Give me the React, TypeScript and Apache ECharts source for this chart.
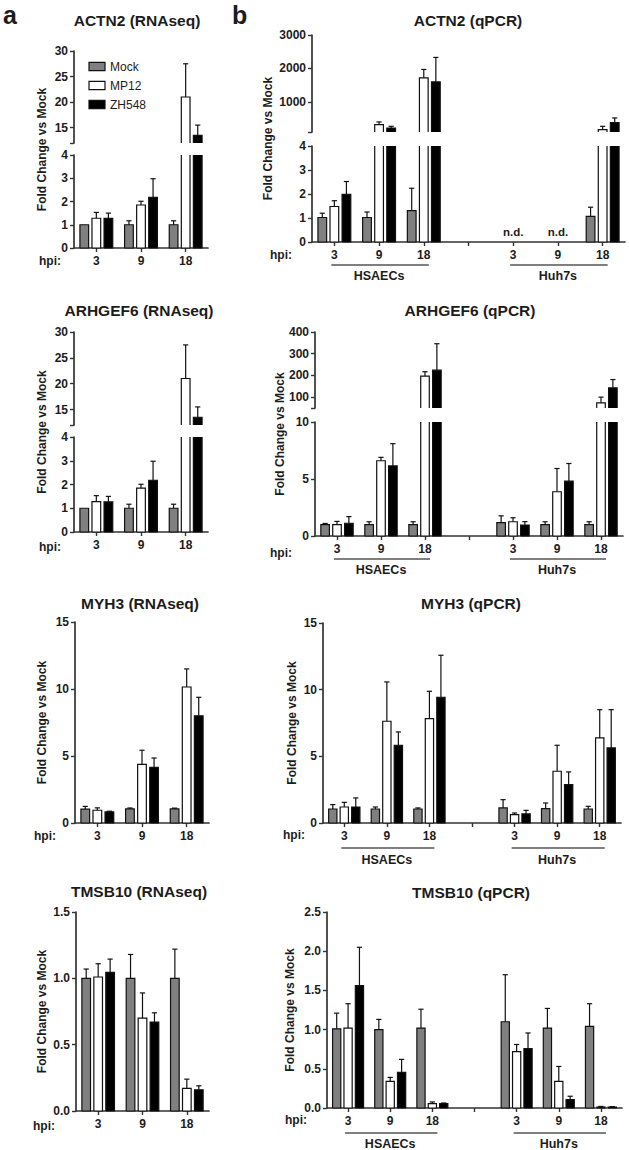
import React, { useEffect, useRef } from "react";
import * as echarts from "echarts";

const FONT = "'Liberation Sans', Arial, Helvetica, sans-serif";
const TXT = "#1c1c1c";
const AX = "#333333";

// ---------- categories / labels ----------
const groupNames = ["Mock", "MP12", "ZH548"];
const groupFill = ["#808080", "#ffffff", "#000000"];
const hpiCats = ["3", "9", "18"];
const cellCats = ["3", "9", "18", "", "3", "9", "18"];
const cellLines = ["HSAECs", "Huh7s"];
const N = null;

// ---------- a: RNAseq (rows: Mock, MP12, ZH548; cols: 3, 9, 18 hpi) ----------
const actn2SeqMean = [
  [1.0, 1.0, 1.0],
  [1.28, 1.85, 21.0],
  [1.27, 2.18, 13.5],
];
const actn2SeqSd = [
  [0.0, 0.17, 0.17],
  [0.25, 0.16, 6.5],
  [0.23, 0.8, 2.0],
];
const arhgef6SeqMean = [
  [1.0, 1.0, 1.0],
  [1.28, 1.85, 21.0],
  [1.27, 2.18, 13.5],
];
const arhgef6SeqSd = [
  [0.0, 0.17, 0.17],
  [0.25, 0.16, 6.5],
  [0.23, 0.8, 2.0],
];
const myh3SeqMean = [
  [1.04, 1.05, 1.05],
  [0.95, 4.38, 10.15],
  [0.83, 4.15, 8.0],
];
const myh3SeqSd = [
  [0.2, 0.07, 0.06],
  [0.18, 1.05, 1.35],
  [0.05, 0.7, 1.38],
];
const tmsb10SeqMean = [
  [1.0, 1.0, 1.0],
  [1.01, 0.7, 0.17],
  [1.045, 0.67, 0.16],
];
const tmsb10SeqSd = [
  [0.07, 0.18, 0.22],
  [0.1, 0.19, 0.07],
  [0.1, 0.07, 0.03],
];

// ---------- b: qPCR (cols: HSAECs 3, 9, 18, gap, Huh7s 3, 9, 18) ----------
const actn2QpcrMean = [
  [1.02, 1.02, 1.31, N, N, N, 1.07],
  [1.48, 320, 1720, N, N, N, 170],
  [1.99, 220, 1600, N, N, N, 380],
];
const actn2QpcrSd = [
  [0.18, 0.23, 0.93, N, N, N, 0.38],
  [0.24, 80, 250, N, N, N, 100],
  [0.53, 50, 730, N, N, N, 140],
];
const arhgef6QpcrMean = [
  [1.0, 1.0, 1.0, N, 1.17, 1.0, 1.0],
  [1.0, 6.6, 197, N, 1.25, 3.88, 74],
  [1.12, 6.15, 224, N, 0.96, 4.81, 143],
];
const arhgef6QpcrSd = [
  [0.1, 0.25, 0.25, N, 0.6, 0.25, 0.25],
  [0.28, 0.3, 20, N, 0.35, 2.04, 26],
  [0.58, 1.95, 122, N, 0.3, 1.55, 38],
];
const myh3QpcrMean = [
  [1.05, 1.05, 1.05, N, 1.13, 1.08, 1.05],
  [1.2, 7.63, 7.83, N, 0.63, 3.88, 6.38],
  [1.2, 5.83, 9.43, N, 0.68, 2.88, 5.63],
];
const myh3QpcrSd = [
  [0.33, 0.15, 0.08, N, 0.62, 0.42, 0.2],
  [0.35, 2.95, 2.05, N, 0.12, 1.95, 2.12],
  [0.68, 1.0, 3.15, N, 0.27, 0.95, 2.87],
];
const tmsb10QpcrMean = [
  [1.01, 1.0, 1.02, N, 1.1, 1.02, 1.04],
  [1.02, 0.34, 0.055, N, 0.72, 0.34, 0.013],
  [1.56, 0.455, 0.055, N, 0.757, 0.106, 0.013],
];
const tmsb10QpcrSd = [
  [0.2, 0.13, 0.24, N, 0.6, 0.25, 0.29],
  [0.31, 0.05, 0.022, N, 0.09, 0.19, 0.007],
  [0.49, 0.165, 0.009, N, 0.2, 0.044, 0.005],
];

// ---------- axis ticks ----------
const seqUpperTicks = [12, 15, 20, 25, 30];
const seqUpperLabels = [15, 20, 25, 30];
const actn2QpcrUpperTicks = [100, 1000, 2000, 3000];
const actn2QpcrUpperLabels = [1000, 2000, 3000];
const arhgef6QpcrUpperTicks = [50, 100, 200, 300, 400];
const arhgef6QpcrUpperLabels = [100, 200, 300, 400];

type Seg = {
  top: number;
  bottom: number;
  min: number;
  max: number;
  interval?: number;
  ticks?: number[];
  labels?: number[];
  dec?: number;
};
type Panel = {
  title: string;
  cats: string[];
  mean: (number | null)[][];
  sd: (number | null)[][];
  left: number;
  width: number;
  tx: number;
  ty: number;
  nameX: number;
  hpiX: number;
  hpiY: number;
  lines?: { lineY: number; labelY: number };
  segs: Seg[];
};

const panels: Panel[] = [
  {
    title: "ACTN2 (RNAseq)", cats: hpiCats, mean: actn2SeqMean, sd: actn2SeqSd,
    left: 74, width: 134, tx: 137, ty: 20, nameX: 42, hpiX: 50, hpiY: 261,
    segs: [
      { top: 51, bottom: 143, min: 12, max: 30, ticks: seqUpperTicks, labels: seqUpperLabels },
      { top: 155, bottom: 248, min: 0, max: 4, interval: 1 },
    ],
  },
  {
    title: "ARHGEF6 (RNAseq)", cats: hpiCats, mean: arhgef6SeqMean, sd: arhgef6SeqSd,
    left: 74, width: 134, tx: 139, ty: 310, nameX: 42, hpiX: 50, hpiY: 547,
    segs: [
      { top: 332, bottom: 425, min: 12, max: 30, ticks: seqUpperTicks, labels: seqUpperLabels },
      { top: 437, bottom: 532, min: 0, max: 4, interval: 1 },
    ],
  },
  {
    title: "MYH3 (RNAseq)", cats: hpiCats, mean: myh3SeqMean, sd: myh3SeqSd,
    left: 75, width: 134, tx: 140, ty: 603, nameX: 42, hpiX: 45, hpiY: 836,
    segs: [{ top: 622, bottom: 823, min: 0, max: 15, interval: 5 }],
  },
  {
    title: "TMSB10 (RNAseq)", cats: hpiCats, mean: tmsb10SeqMean, sd: tmsb10SeqSd,
    left: 76, width: 133, tx: 139, ty: 891, nameX: 42, hpiX: 44, hpiY: 1126,
    segs: [{ top: 912, bottom: 1111, min: 0, max: 1.5, interval: 0.5, dec: 1 }],
  },
  {
    title: "ACTN2 (qPCR)", cats: cellCats, mean: actn2QpcrMean, sd: actn2QpcrSd,
    left: 312, width: 313, tx: 468, ty: 20, nameX: 268, hpiX: 281, hpiY: 255,
    lines: { lineY: 265, labelY: 276 },
    segs: [
      { top: 35, bottom: 132, min: 100, max: 3000, ticks: actn2QpcrUpperTicks, labels: actn2QpcrUpperLabels },
      { top: 146, bottom: 242, min: 0, max: 4, interval: 1 },
    ],
  },
  {
    title: "ARHGEF6 (qPCR)", cats: cellCats, mean: arhgef6QpcrMean, sd: arhgef6QpcrSd,
    left: 315, width: 308, tx: 470, ty: 310, nameX: 280, hpiX: 281, hpiY: 553,
    lines: { lineY: 559, labelY: 570 },
    segs: [
      { top: 332, bottom: 408, min: 50, max: 400, ticks: arhgef6QpcrUpperTicks, labels: arhgef6QpcrUpperLabels },
      { top: 422, bottom: 536, min: 0, max: 10, interval: 5 },
    ],
  },
  {
    title: "MYH3 (qPCR)", cats: cellCats, mean: myh3QpcrMean, sd: myh3QpcrSd,
    left: 323, width: 298, tx: 471, ty: 603, nameX: 292, hpiX: 294, hpiY: 835,
    lines: { lineY: 848, labelY: 860 },
    segs: [{ top: 623, bottom: 823, min: 0, max: 15, interval: 5 }],
  },
  {
    title: "TMSB10 (qPCR)", cats: cellCats, mean: tmsb10QpcrMean, sd: tmsb10QpcrSd,
    left: 327, width: 295, tx: 471, ty: 892, nameX: 290, hpiX: 296, hpiY: 1120,
    lines: { lineY: 1133, labelY: 1144 },
    segs: [{ top: 912, bottom: 1108, min: 0, max: 2.5, interval: 0.5, dec: 1 }],
  },
];

function makeRender(g: number, segMin: number, isLower: boolean) {
  return (params: any, api: any) => {
    const cat = api.value(0) as number;
    const mean = api.value(1) as number;
    const sd = api.value(2) as number;
    const cs = params.coordSys;
    const top = cs.y;
    const bottom = cs.y + cs.height;
    if (!isLower && mean <= segMin) return null;
    const band = api.size([1, 0])[0];
    const cx = api.coord([cat, segMin])[0] + (g - 1) * band * 0.27;
    const bw = band * 0.195;
    const x0 = cx - bw / 2;
    const x1 = cx + bw / 2;
    let yTop = api.coord([cat, mean])[1];
    const clipped = yTop < top;
    if (clipped) yTop = top;
    const children: any[] = [];
    children.push({
      type: "rect",
      shape: { x: x0, y: yTop, width: bw, height: bottom - yTop },
      style: { fill: groupFill[g], stroke: null },
    });
    let pts: number[][];
    if (clipped) pts = [[x0, top], [x0, bottom], [x1, bottom], [x1, top]];
    else if (isLower) pts = [[x0, bottom], [x0, yTop], [x1, yTop], [x1, bottom], [x0, bottom]];
    else pts = [[x0, bottom], [x0, yTop], [x1, yTop], [x1, bottom]];
    children.push({
      type: "polyline",
      shape: { points: pts },
      style: { stroke: "#111", lineWidth: 1.2, fill: null },
    });
    if (sd > 0 && !clipped) {
      let yErr = api.coord([cat, mean + sd])[1];
      let capped = true;
      if (yErr < top) {
        yErr = top;
        capped = false;
      }
      const es = { stroke: "#111", lineWidth: 1.2 };
      if (yTop - yErr > 0.5) {
        children.push({ type: "line", shape: { x1: cx, y1: yTop, x2: cx, y2: yErr }, style: es });
      }
      if (capped) {
        children.push({ type: "line", shape: { x1: cx - 2.6, y1: yErr, x2: cx + 2.6, y2: yErr }, style: es });
      }
    }
    return { type: "group", children };
  };
}

function buildOption() {
  const grids: any[] = [];
  const xAxes: any[] = [];
  const yAxes: any[] = [];
  const series: any[] = [];
  const lowerIdx: number[] = [];
  panels.forEach((p) => {
    p.segs.forEach((s, si) => {
      const isLower = si === p.segs.length - 1;
      const gi = grids.length;
      if (isLower) lowerIdx.push(gi);
      grids.push({ left: p.left, width: p.width, top: s.top, height: s.bottom - s.top });
      xAxes.push({
        type: "category",
        gridIndex: gi,
        data: p.cats,
        show: isLower,
        boundaryGap: true,
        axisLine: { show: true, lineStyle: { color: AX, width: 1.7 } },
        axisTick: { show: true, alignWithLabel: true, interval: 0, length: 4, lineStyle: { color: AX, width: 1.4 } },
        axisLabel: { interval: 0, margin: 7, color: TXT, fontFamily: FONT, fontWeight: "bold", fontSize: 12 },
        splitLine: { show: false },
      });
      const fmt = (v: number) => (s.dec ? v.toFixed(s.dec) : String(v));
      const yAxis: any = {
        type: "value",
        gridIndex: gi,
        min: s.min,
        max: s.max,
        splitLine: { show: false },
        axisLine: { show: true, lineStyle: { color: AX, width: 1.7 } },
        axisTick: { show: true, length: 4, lineStyle: { color: AX, width: 1.4 } },
        axisLabel: { margin: 6, color: TXT, fontFamily: FONT, fontWeight: "bold", fontSize: 12, formatter: fmt },
      };
      if (s.interval) yAxis.interval = s.interval;
      if (s.ticks) yAxis.axisTick.customValues = s.ticks;
      if (s.labels) yAxis.axisLabel.customValues = s.labels;
      yAxes.push(yAxis);
      for (let g = 0; g < 3; g++) {
        const data: any[] = [];
        p.mean[g].forEach((m, i) => {
          if (m == null) return;
          if (!isLower && m <= s.min) return;
          data.push([i, m, p.sd[g][i] ?? 0]);
        });
        series.push({
          type: "custom",
          name: groupNames[g],
          xAxisIndex: gi,
          yAxisIndex: gi,
          silent: true,
          encode: { x: 0, y: 1 },
          renderItem: makeRender(g, s.min, isLower),
          data,
        });
      }
    });
  });
  return { grids, xAxes, yAxes, series, lowerIdx };
}

function txt(text: string, x: number, y: number, size: number, bold: boolean, align = "center", extra: any = {}) {
  return {
    type: "text",
    x,
    y,
    silent: true,
    ...extra,
    style: {
      text,
      fill: TXT,
      fontFamily: FONT,
      fontSize: size,
      fontWeight: bold ? "bold" : "normal",
      align,
      textAlign: align,
      verticalAlign: "middle",
      textVerticalAlign: "middle",
    },
  };
}

export default function App() {
  const ref = useRef<HTMLDivElement>(null);
  useEffect(() => {
    if (!ref.current) return;
    const chart = echarts.init(ref.current, null, { renderer: "svg" });
    const { grids, xAxes, yAxes, series, lowerIdx } = buildOption();
    chart.setOption({
      animation: false,
      backgroundColor: "#ffffff",
      grid: grids,
      xAxis: xAxes,
      yAxis: yAxes,
      series,
    });

    const graphic: any[] = [];
    graphic.push(txt("a", 3, 15, 25, true, "left"));
    graphic.push(txt("b", 232, 15, 25, true, "left"));
    // legend
    const legY = [66.5, 85.5, 104.5];
    groupNames.forEach((n, g) => {
      graphic.push({
        type: "rect",
        silent: true,
        shape: { x: 89, y: legY[g] - 4.2, width: 16, height: 8.4 },
        style: { fill: groupFill[g], stroke: "#111", lineWidth: 1.2 },
      });
      graphic.push(txt(n, 110, legY[g], 12, false, "left"));
    });

    panels.forEach((p, pi) => {
      const gi = lowerIdx[pi];
      const lastSeg = p.segs[p.segs.length - 1];
      const firstSeg = p.segs[0];
      graphic.push(txt(p.title, p.tx, p.ty, 15.5, true));
      graphic.push(
        txt("Fold Change vs Mock", p.nameX, (firstSeg.top + lastSeg.bottom) / 2, 12, true, "center", {
          rotation: Math.PI / 2,
        })
      );
      graphic.push(txt("hpi:", p.hpiX, p.hpiY, 12, true));
      const px = (i: number) => {
        const v = chart.convertToPixel({ xAxisIndex: gi } as any, i as any) as any;
        const n = Array.isArray(v) ? v[0] : v;
        return typeof n === "number" && isFinite(n) ? n : p.left + (p.width / p.cats.length) * (i + 0.5);
      };
      // n.d. marks
      p.cats.forEach((c, i) => {
        if (c !== "" && p.mean.every((row) => row[i] == null)) {
          graphic.push(txt("n.d.", px(i), lastSeg.bottom - 10, 11.5, true));
        }
      });
      if (p.lines) {
        cellLines.forEach((name, k) => {
          const i0 = k * 4;
          const xa = px(i0) - 3;
          const xb = px(i0 + 2) + 5;
          graphic.push({
            type: "line",
            silent: true,
            shape: { x1: xa, y1: p.lines!.lineY, x2: xb, y2: p.lines!.lineY },
            style: { stroke: "#555", lineWidth: 1.4 },
          });
          graphic.push(txt(name, px(i0 + 1), p.lines!.labelY, 12.5, true));
        });
      }
    });
    chart.setOption({ graphic: { elements: graphic } });
    return () => chart.dispose();
  }, []);
  return (
    <div
      ref={ref}
      style={{ position: "absolute", left: 0, top: 0, width: 629, height: 1150, background: "#fff" }}
    />
  );
}
